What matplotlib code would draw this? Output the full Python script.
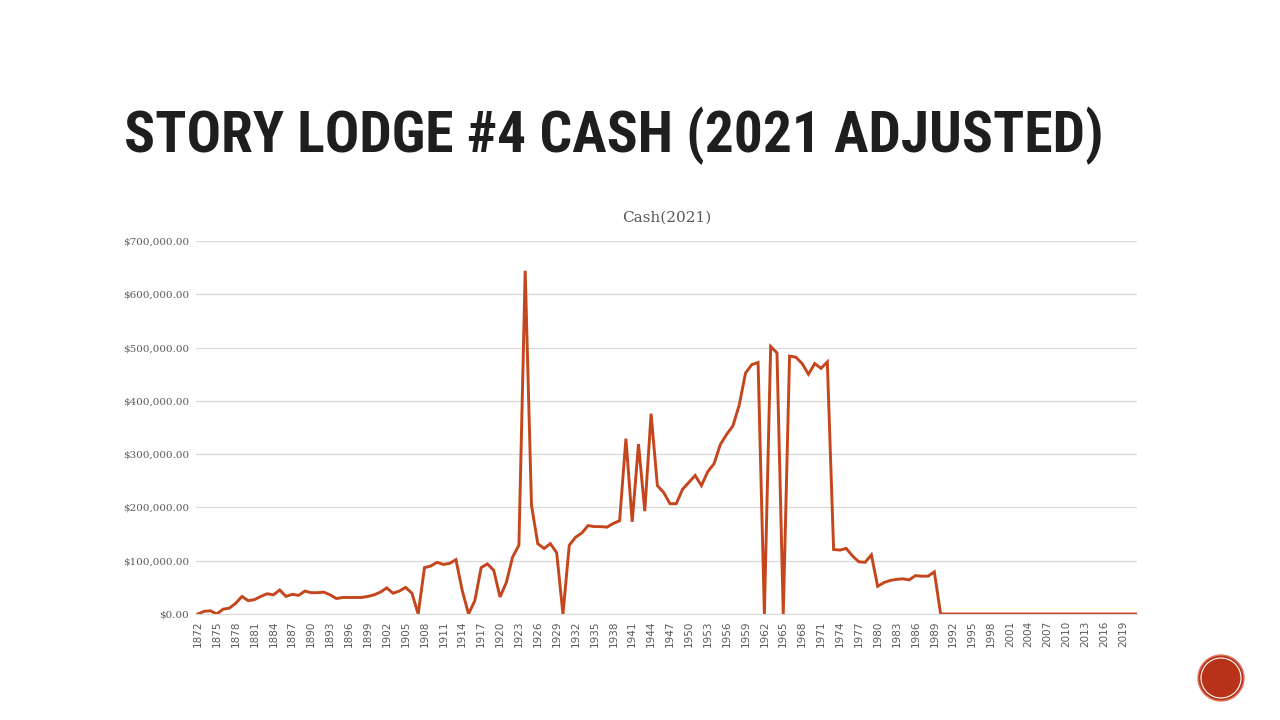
import matplotlib.pyplot as plt
import numpy as np
from matplotlib import font_manager
from matplotlib.patches import Ellipse
from matplotlib.ticker import FuncFormatter

# year range 1872-2021, one value per year (2021 dollars, thousands)
first_year = 1872
last_year = 2021
cash_1872_1905 = [0, 5, 6, 0, 9, 11, 20, 33, 25, 27, 33, 38, 36, 45, 33, 37, 35, 43,
                  40, 40, 41, 36, 29, 31, 31, 31, 31, 33, 36, 41, 49, 39, 43, 50]
cash_1906_1939 = [39, 0, 87, 90, 97, 93, 95, 102, 44, 0, 25, 87, 94, 82, 32, 59, 107,
                  129, 644, 204, 132, 123, 132, 115, 0, 129, 144, 152, 166, 164, 164,
                  163, 170, 175]
cash_1940_1972 = [329, 173, 319, 193, 376, 241, 228, 207, 207, 234, 247, 260, 241, 267,
                  282, 318, 337, 353, 392, 452, 468, 472, 0, 502, 490, 0, 484, 482,
                  470, 450, 470, 461, 473]
cash_1973_1989 = [121, 120, 123, 109, 98, 97, 111, 52, 59, 63, 65, 66, 64, 72, 71, 71, 79]

years = np.arange(first_year, last_year + 1)
cash_k = cash_1872_1905 + cash_1906_1939 + cash_1940_1972 + cash_1973_1989
cash_k = cash_k + [0] * (len(years) - len(cash_k))
cash = np.array(cash_k) * 1000.0

grey = "#595959"
line_color = "#c4461d"


def _pick_font(candidates, fallback):
    for name in candidates:
        try:
            font_manager.findfont(font_manager.FontProperties(family=name),
                                  fallback_to_default=False)
            return name
        except ValueError:
            continue
    return fallback


title_font = _pick_font(["Roboto Condensed", "Liberation Sans Narrow", "Open Sans Condensed",
                         "DejaVu Serif Condensed"], "Liberation Serif")

fig = plt.figure(figsize=(12.8, 7.2), dpi=100)
ax = fig.add_axes([196 / 1280, 1 - 614 / 720, (1137 - 196) / 1280, (614 - 241) / 720])

x = np.arange(len(years))
ax.plot(x, cash, color=line_color, linewidth=2.1, solid_joinstyle="miter")

ax.set_ylim(0, 700000)
ax.set_yticks(np.arange(0, 700001, 100000))
ax.yaxis.set_major_formatter(FuncFormatter(lambda v, _: f"${v:,.2f}"))
ax.set_xlim(-0.3, len(years) - 0.8)
ax.set_xticks(x[::3])
ax.set_xticklabels([str(y) for y in years[::3]], rotation=90)

ax.grid(axis="y", color="#d9d9d9", linewidth=0.9)
ax.set_axisbelow(True)
for side in ["top", "right", "left"]:
    ax.spines[side].set_visible(False)
ax.spines["bottom"].set_color("#d9d9d9")
ax.tick_params(axis="both", length=0, colors=grey, labelsize=7.5, pad=5)
for lbl in ax.get_yticklabels():
    lbl.set_family("DejaVu Serif")

ax.set_title("Cash(2021)", color=grey, fontsize=11, family="DejaVu Serif", pad=14)

title = fig.text(124 / 1280, 1 - 136 / 720, "STORY LODGE #4 CASH (2021 ADJUSTED)",
                 family=title_font, fontweight="bold", fontstretch="condensed",
                 fontsize=50, color="#1e1e1e", va="center", ha="left")
# shrink the title until it spans the same width as on the slide
renderer = fig.canvas.get_renderer()
width = title.get_window_extent(renderer).width
if width > 981:
    title.set_fontsize(50 * 981 / width)

# slide decoration, bottom right
cx, cy = 1221 / 1280, 1 - 678 / 720
fig.patches.append(Ellipse((cx, cy), 46 / 1280, 46 / 720, transform=fig.transFigure,
                           facecolor="#b8321a", edgecolor="#e07a5f", linewidth=1.0))
fig.patches.append(Ellipse((cx, cy), 40 / 1280, 40 / 720, transform=fig.transFigure,
                           facecolor="none", edgecolor="white", linewidth=0.8))

fig.savefig("out.png", dpi=100)
